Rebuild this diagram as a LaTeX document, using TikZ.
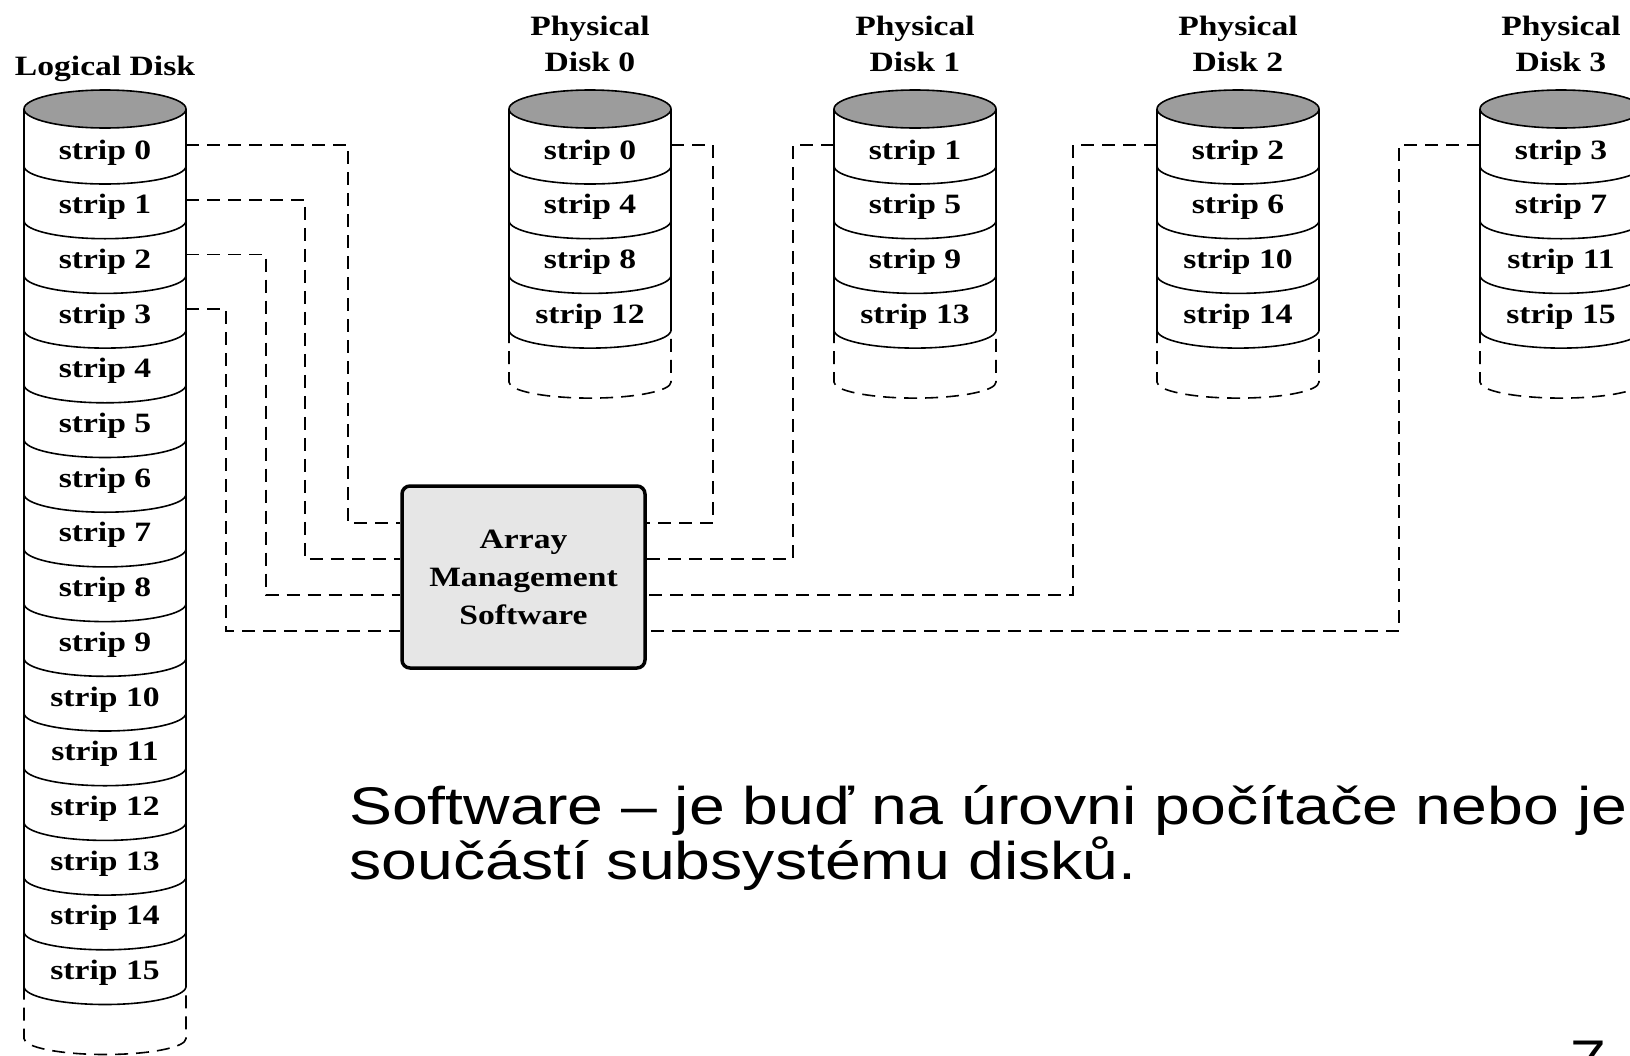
\documentclass[tikz,border=0pt]{standalone}
\usepackage{fontspec}
\setmainfont{Liberation Serif}[FakeStretch=1.2]
\newfontfamily\slidefont{Liberation Sans}[FakeStretch=1.215]
\usetikzlibrary{calc}
\definecolor{topgray}{HTML}{9C9C9C}
\definecolor{boxgray}{HTML}{E6E6E6}

\begin{document}
\begin{tikzpicture}[x=1pt, y=-1pt,
		disk/.style={line width=1.6pt},
		link/.style={line width=1.6pt, dash pattern=on 13pt off 8pt},
		strip/.style={font=\bfseries\fontsize{28}{34}\selectfont, minimum width=162pt,
			inner sep=0pt, text height=28pt, text depth=0pt},
		title/.style={font=\bfseries\fontsize{28}{36}\selectfont, align=center},
		ams/.style={draw, line width=3.5pt, fill=boxgray, rounded corners=8pt,
			minimum width=243pt, minimum height=182pt, align=center,
			font=\bfseries\fontsize{28}{38}\selectfont}]
		\useasboundingbox (0, 0) rectangle (1630, 1055);

		% disks
		\foreach \cx/\n in {105/16, 590/4, 915/4, 1238/4, 1561/4} {
			\pgfmathsetmacro\yb{111.3 + \n*54.7}
			\draw[disk, fill=topgray] (\cx, 109) ellipse [x radius=81, y radius=19];
			\draw[disk] (\cx-81, 109) -- (\cx-81, \yb) (\cx+81, 109) -- (\cx+81, \yb);
			\foreach \k in {1,...,\n}
				\draw[disk] (\cx-81, {111.3+\k*54.7}) arc[start angle=180, end angle=0, x radius=81, y radius=18];
			\draw[link] (\cx-81, \yb) -- ++(0, 52) arc[start angle=180, end angle=0, x radius=81, y radius=16] -- ++(0, -52);
		}

		\node[title] (logical) at (105, 69) {Logical Disk};
		\foreach \j/\cx in {0/590, 1/915, 2/1238, 3/1561}
			\node[title] (disk\j) at (\cx, 44) {Physical\\Disk \j};

		\foreach \k in {0,...,15}
			\node[strip] (l\k) at (105, {145+\k*54.7}) {strip \k};
		\foreach \j/\cx in {0/590, 1/915, 2/1238, 3/1561}
			\foreach \i in {0,...,3} {
				\pgfmathtruncatemacro\s{4*\i+\j}
				\node[strip] (p\s) at (\cx, {145+\i*54.7}) {strip \s};
			}

		\node[ams] (ams) at (523.5, 577) {Array\\Management\\Software};

		% links to the array software
		\coordinate (a0) at (348, 523);
		\coordinate (a1) at (305, 559);
		\coordinate (a2) at (266, 595);
		\coordinate (a3) at (226, 631);
		\coordinate (b0) at (713, 523);
		\coordinate (b1) at (793, 559);
		\coordinate (b2) at (1073, 595);
		\coordinate (b3) at (1399, 631);
		\draw[link] (l0.east) -| (a0) -- (a0 -| ams.west);
		\draw[link] (l1.east) -| (a1) -- (a1 -| ams.west);
		\draw[link] (l2.east) -| (a2) -- (a2 -| ams.west);
		\draw[link] (l3.east) -| (a3) -- (a3 -| ams.west);
		\draw[link] (p0.east) -| (b0) -- (b0 -| ams.east);
		\draw[link] (p1.west) -| (b1) -- (b1 -| ams.east);
		\draw[link] (p2.west) -| (b2) -- (b2 -| ams.east);
		\draw[link] (p3.west) -| (b3) -- (b3 -| ams.east);

		\node[anchor=north west, align=left, inner sep=0pt,
			font=\slidefont\fontsize{53}{55}\selectfont] (note) at (349, 785)
			{Software – je buď na úrovni počítače nebo je\\součástí subsystému disků.};
		\node[anchor=base, inner sep=0pt, font=\slidefont\fontsize{53}{54}\selectfont]
			(page) at (1588, 1077) {7};
	\end{tikzpicture}
\end{document}
